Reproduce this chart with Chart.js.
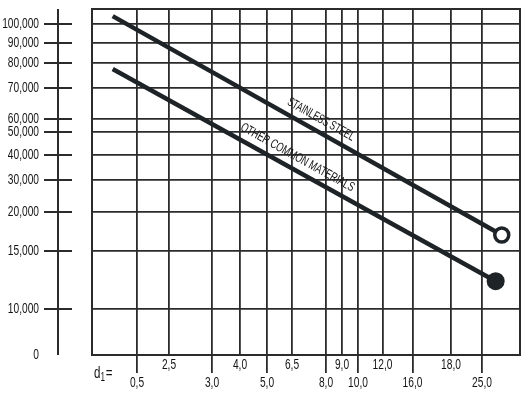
<!DOCTYPE html>
<html><head><meta charset="utf-8">
<script src="https://cdn.jsdelivr.net/npm/chart.js@4/dist/chart.umd.min.js"></script>
<style>html,body{margin:0;padding:0;background:#fff;}canvas{display:block;}</style>
</head><body>
<canvas id="c" width="525" height="393"></canvas>
<script>
// ---------------- DATA ----------------
const xTickValues = [0.5, 2.5, 3.0, 4.0, 5.0, 6.5, 8.0, 9.0, 10.0, 12.0, 16.0, 18.0, 25.0];
const xTickLabels = ['0,5','2,5','3,0','4,0','5,0','6,5','8,0','9,0','10,0','12,0','16,0','18,0','25,0'];
const yTickValues = [0, 10000, 15000, 20000, 30000, 40000, 50000, 60000, 70000, 80000, 90000, 100000];
const yTickLabels = ['0','10,000','15,000','20,000','30,000','40,000','50,000','60,000','70,000','80,000','90,000','100,000'];
const xRange = [0, 30];
const yRange = [0, 108000];
const seriesNames = ['STAINLESS STEEL', 'OTHER COMMON MATERIALS'];
const stainlessX = [0.23, 27.6];
const stainlessY = [104200, 17050];
const otherX = [0.23, 26.8];
const otherY = [77600, 12400];
const axisName = ['d', '1', '='];

// ---------------- LAYOUT (where values sit along each axis, as fraction of its length) ----------------
const xTickFrac = [0.1051, 0.1799, 0.2804, 0.3458, 0.4089, 0.4673, 0.5467, 0.5841, 0.6215, 0.6787, 0.7488, 0.8388, 0.9112];
const yTickFrac = [0, 0.1329, 0.3006, 0.4133, 0.5058, 0.5780, 0.6445, 0.6821, 0.7717, 0.8439, 0.9017, 0.9566];
const LINE_LABEL_POS = [0.52, 0.467];   // fraction along each line
const LINE_LABEL_OFF = 12;              // px above line (perpendicular)
const LINE_LABEL_LEN = [75, 128];       // drawn text length along the line
const TEXT_SX = 0.68;                   // horizontal condensing of tick text

const INK = '#1d2326';
const GRID = '#2b2b2b';
const TEXT = '#141414';
const FONT = "'Liberation Sans', Arial, sans-serif";

// piecewise value<->fraction map
function makeMap(ticks, fracs, range) {
  const pairs = [[range[0], 0]];
  ticks.forEach((v, i) => pairs.push([v, fracs[i]]));
  pairs.push([range[1], 1]);
  pairs.sort((a, b) => a[0] - b[0]);
  const vals = [], fr = [];
  pairs.forEach(p => { if (!vals.length || vals[vals.length - 1] !== p[0]) { vals.push(p[0]); fr.push(p[1]); } });
  function interp(a, b, x) {
    let i = 0;
    while (i < a.length - 2 && x > a[i + 1]) i++;
    return b[i] + (x - a[i]) * (b[i + 1] - b[i]) / (a[i + 1] - a[i]);
  }
  return { min: vals[0], max: vals[vals.length - 1], ticks,
    toFrac: v => interp(vals, fr, v), toVal: f => interp(fr, vals, f) };
}
const axisMaps = {
  x: makeMap(xTickValues, xTickFrac, xRange),
  y: makeMap(yTickValues, yTickFrac, yRange)
};

class PiecewiseScale extends Chart.LinearScale {
  static id = 'piecewise';
  determineDataLimits() { const m = axisMaps[this.id]; this.min = m.min; this.max = m.max; }
  buildTicks() { return axisMaps[this.id].ticks.map(v => ({ value: v })); }
  getPixelForValue(v) { return this.getPixelForDecimal(axisMaps[this.id].toFrac(v)); }
  getValueForPixel(p) { return axisMaps[this.id].toVal(this.getDecimalForPixel(p)); }
  drawLabels(chartArea) {
    const H = Chart.helpers;
    if (!this.options.ticks.display) return;
    if (!H || !H.renderText) return super.drawLabels(chartArea);
    const ctx = this.ctx;
    for (const item of this.getLabelItems(chartArea)) {
      const o = item.options;
      const [tx, ty] = o.translation;
      ctx.save();
      ctx.translate(tx, ty);
      ctx.scale(TEXT_SX, 1);
      H.renderText(ctx, item.label, 0, item.textOffset, item.font, Object.assign({}, o, { translation: [0, 0] }));
      ctx.restore();
    }
  }
}
Chart.register(PiecewiseScale);

const framePlugin = {
  id: 'frame',
  beforeDatasetsDraw(chart) {
    const { ctx, chartArea: a, scales } = chart;
    ctx.save();
    ctx.strokeStyle = GRID; ctx.lineWidth = 2;
    ctx.strokeRect(a.left, a.top, a.right - a.left, a.bottom - a.top);
    // decorative left value axis
    const ax = 58;
    ctx.beginPath();
    ctx.moveTo(ax, a.top); ctx.lineTo(ax, a.bottom);
    scales.y.ticks.forEach(t => {
      if (t.value === 0) return;
      const py = scales.y.getPixelForValue(t.value);
      ctx.moveTo(ax - 14, py); ctx.lineTo(ax + 14, py);
    });
    ctx.stroke();
    // d1= label
    ctx.fillStyle = TEXT; ctx.textBaseline = 'middle'; ctx.textAlign = 'left';
    ctx.translate(a.left + 2, a.bottom + 18);
    ctx.scale(TEXT_SX, 1);
    let x = 0;
    ctx.font = '17px ' + FONT; ctx.fillText(axisName[0], x, 0); x += ctx.measureText(axisName[0]).width;
    ctx.font = '12px ' + FONT; ctx.fillText(axisName[1], x, 5); x += ctx.measureText(axisName[1]).width + 1;
    ctx.font = '17px ' + FONT; ctx.fillText(axisName[2], x, 0);
    ctx.restore();
  },
  afterDatasetsDraw(chart) {
    const { ctx } = chart;
    ctx.save();
    ctx.fillStyle = TEXT; ctx.font = '13px ' + FONT;
    ctx.textAlign = 'center'; ctx.textBaseline = 'middle';
    chart.data.datasets.forEach((ds, i) => {
      const pts = chart.getDatasetMeta(i).data;
      const p0 = pts[0], p1 = pts[pts.length - 1];
      const ang = Math.atan2(p1.y - p0.y, p1.x - p0.x);
      const t = LINE_LABEL_POS[i];
      const cx = p0.x + (p1.x - p0.x) * t + Math.sin(ang) * LINE_LABEL_OFF;
      const cy = p0.y + (p1.y - p0.y) * t - Math.cos(ang) * LINE_LABEL_OFF;
      const sx = LINE_LABEL_LEN[i] / ctx.measureText(ds.label).width;
      ctx.save();
      ctx.translate(cx, cy); ctx.rotate(ang); ctx.scale(sx, 1);
      ctx.fillText(ds.label, 0, 0);
      ctx.restore();
    });
    ctx.restore();
  }
};

const toPts = (xs, ys) => xs.map((x, i) => ({ x, y: ys[i] }));

new Chart(document.getElementById('c'), {
  type: 'scatter',
  data: {
    datasets: [
      { label: seriesNames[0], data: toPts(stainlessX, stainlessY), showLine: true,
        borderColor: INK, borderWidth: 4.5, borderCapStyle: 'butt',
        pointRadius: [0, 7], pointHoverRadius: 0, pointBorderWidth: 3.5, pointBorderColor: INK, pointBackgroundColor: '#fff' },
      { label: seriesNames[1], data: toPts(otherX, otherY), showLine: true,
        borderColor: INK, borderWidth: 4.5, borderCapStyle: 'butt',
        pointRadius: [0, 9], pointHoverRadius: 0, pointBorderWidth: 0, pointBorderColor: INK, pointBackgroundColor: INK }
    ]
  },
  options: {
    responsive: false, animation: false, devicePixelRatio: 1,
    layout: { autoPadding: false, padding: { top: 9, right: 5, left: 0, bottom: 0 } },
    plugins: { legend: { display: false }, tooltip: { enabled: false } },
    scales: {
      x: {
        type: 'piecewise', position: 'bottom',
        afterFit: s => { s.height = 38; s.paddingLeft = 0; s.paddingRight = 0; },
        border: { display: false },
        grid: { color: GRID, lineWidth: 1.8, drawTicks: true, tickLength: 18, tickWidth: 1.8,
                tickColor: c => (c.index % 2 === 0 ? GRID : 'rgba(0,0,0,0)') },
        ticks: { autoSkip: false, maxRotation: 0, minRotation: 0, padding: -17, color: TEXT,
                 font: { family: FONT, size: 15, lineHeight: 18 / 15 },
                 callback: (v, i) => (i % 2 === 0 ? ['', xTickLabels[i]] : xTickLabels[i]) }
      },
      y: {
        type: 'piecewise', position: 'left',
        afterFit: s => { s.width = 92; s.paddingTop = 0; s.paddingBottom = 0; },
        border: { display: false },
        grid: { color: GRID, lineWidth: 1.8, drawTicks: false },
        ticks: { autoSkip: false, padding: 53, color: TEXT,
                 font: { family: FONT, size: 15 },
                 callback: (v, i) => yTickLabels[i] }
      }
    }
  },
  plugins: [framePlugin]
});
</script>
</body></html>
